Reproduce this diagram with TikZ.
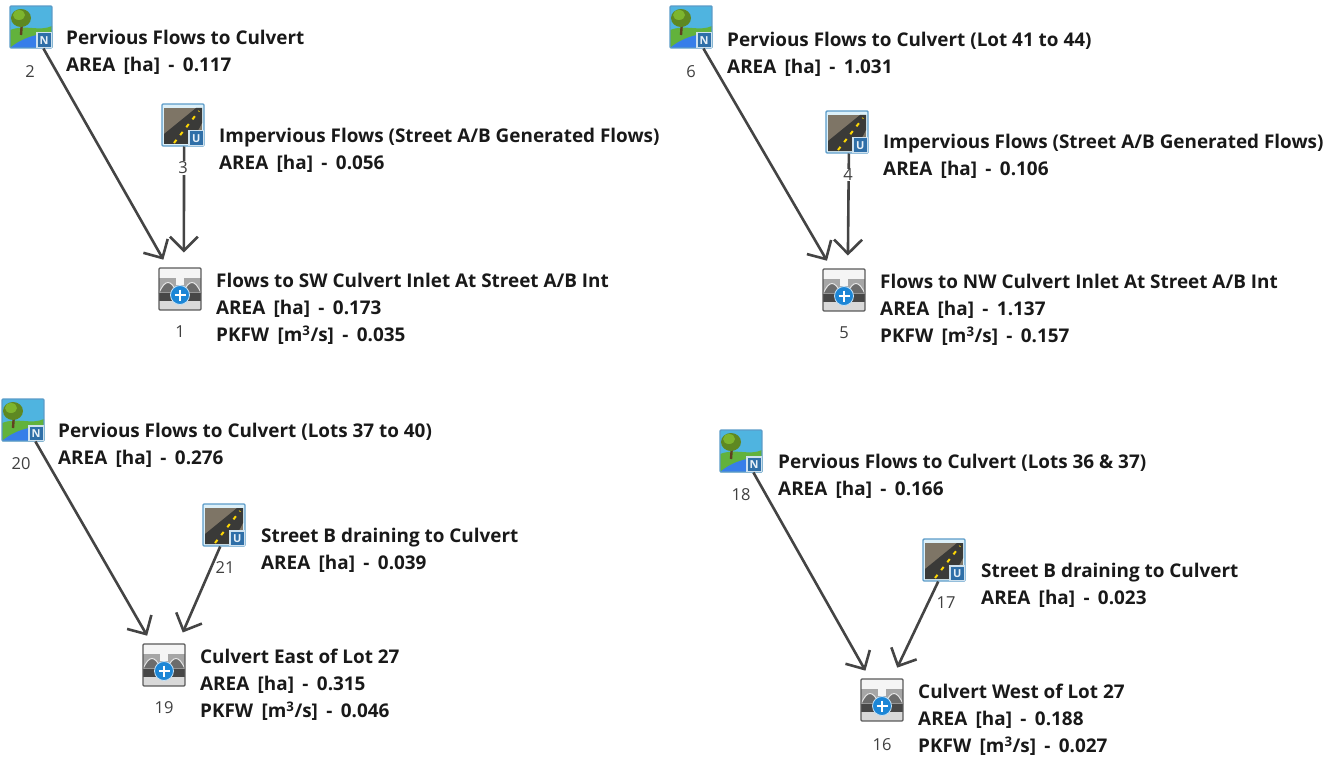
\documentclass[tikz,border=0pt]{standalone}
\usepackage{fontspec}
\setmainfont{Open Sans}
\usepackage{tikz}
\usetikzlibrary{arrows.meta,positioning}
\definecolor{HydFrame}{HTML}{5B9BC8}
\definecolor{HydBadge}{HTML}{2F6FA8}
\definecolor{HydSky}{HTML}{4FB4E0}
\definecolor{HydGrass}{HTML}{62B23C}
\definecolor{HydTree}{HTML}{7DB52E}
\definecolor{HydRoad}{HTML}{3A3A38}
\definecolor{HydDirt}{HTML}{7E7566}
\definecolor{HydLine}{HTML}{444444}
\definecolor{HydPlus}{HTML}{1C86D6}
\tikzset{
  hydbox/.style={minimum size=43pt,inner sep=0pt,outer sep=0pt},
  hydtext/.style={anchor=west,align=left,inner sep=0pt,text=black!90,font=\fontsize{18.9}{26.8}\selectfont\bfseries},
  hydnum/.style={font=\fontsize{16.5}{18}\selectfont,text=black!75,fill=white,inner sep=.5pt},
  flow/.style={draw=HydLine,line width=2.6pt,-{Straight Barb[length=14pt,width=28pt,line width=2.6pt]}},
  badge/.pic={\fill[white!70!HydFrame] (5,5) rectangle (21,21);\fill[HydBadge] (6.5,6.5) rectangle (20,20);\node[font=\fontsize{11}{11}\selectfont\bfseries,text=white!85!HydFrame,inner sep=0pt] at (13.2,13.2) {#1};},
  nhyd/.pic={
    \fill[HydSky] (-21,-21) rectangle (21,21);
    \fill[HydGrass] (-21,3) .. controls (-5,-3) and (8,5) .. (21,-1) -- (21,21) -- (-21,21) -- cycle;
    \fill[HydSky!70!blue] (-21,21) .. controls (-8,10) and (6,7) .. (21,6) -- (21,21) -- cycle;
    \draw[brown!50!black,line width=2.4pt] (-10,8) -- (-9,-6);
    \fill[HydTree!75!black] (-10,-9) ellipse (10pt and 9pt);
    \fill[HydTree] (-12,-12) ellipse (6pt and 5pt);
    \draw[HydFrame,line width=1.4pt,rounded corners=1pt] (-21,-21) rectangle (21,21);
    \pic at (0,0) {badge=N};},
  uhyd/.pic={
    \fill[white!80!HydSky] (-21,-21) rectangle (21,21);
    \fill[HydDirt] (-19,-17) rectangle (19,19);
    \fill[HydRoad] (-19,19) -- (-19,9) -- (13,-17) -- (19,-17) -- (19,-2) -- (8,19) -- cycle;
    \draw[yellow!75!orange,line width=2pt,dash pattern=on 4pt off 6pt] (-9,18) -- (16,-14);
    \draw[HydFrame,line width=1.4pt,rounded corners=1pt] (-21,-21) rectangle (21,21);
    \pic at (0,0) {badge=U};},
  addhyd/.pic={
    \fill[gray!30] (-21,-21) rectangle (21,21);
    \fill[gray!8] (-21,-21) rectangle (21,-11);
    \fill[gray!70] (-21,-11) rectangle (21,6);
    \fill[gray!8] (-4,-11) rectangle (4,-4);
    \fill[gray!85!black,draw=gray!20,line width=1pt] (-21,4) .. controls (-15,-10) and (-9,-10) .. (-3,4) -- cycle (3,4) .. controls (9,-10) and (15,-10) .. (21,4) -- cycle;
    \fill[black!72] (-21,4) rectangle (21,12);
    \fill[HydPlus,draw=white!75!HydPlus,line width=.8pt] (0,6) circle (9.5pt);
    \draw[white,line width=2.4pt] (-5.5,6) -- (5.5,6) (0,.5) -- (0,11.5);
    \draw[gray!70!black,line width=1.2pt,rounded corners=1pt] (-21,-21) rectangle (21,21);}
}
\newcommand{\ar}{AREA\hspace{3.5pt} [ha]\hspace{3.5pt} -\hspace{3.5pt} }
\newcommand{\pk}{PKFW\hspace{3.5pt} [m\textsuperscript{3}/s]\hspace{3.5pt} -\hspace{3.5pt} }
\begin{document}
\begin{tikzpicture}[x=1pt,y=-1pt]
\useasboundingbox (0,0) rectangle (1338,757);
% hydrograph boxes
\foreach \n/\x/\y/\t in {n2/31/27/nhyd,u3/183/125/uhyd,j1/180/289/addhyd,n6/691/27/nhyd,u4/847/132/uhyd,j5/844/290/addhyd,n20/23/420/nhyd,u21/224/525/uhyd,j19/164/665/addhyd,n18/741/451/nhyd,u17/944/560/uhyd,j16/882/700/addhyd}{\node[hydbox] (\n) at (\x,\y) {};\pic at (\x,\y) {\t};}
% connectors
\draw[flow,shorten >=9pt] (n2.-60)--(j1);
\draw[flow,shorten >=15pt] (u3.-87)--(j1.80);
\draw[flow,shorten >=9pt] (n6.-60)--(j5);
\draw[flow,shorten >=13pt] (u4.-85)--(j5.80);
\draw[flow,shorten >=9pt] (n20.-60)--(j19);
\draw[flow,shorten >=12pt] (u21.-100)--(j19.57);
\draw[flow,shorten >=9pt] (n18.-60)--(j16);
\draw[flow,shorten >=12pt] (u17.-105)--(j16.65);
% numbers
\foreach \n/\x/\y/\s in {n2/30/72/2,u3/183/168/3,j1/180/332/1,n6/691/72/6,u4/848/175/4,j5/844/333/5,n20/21/464/20,u21/225/568/21,j19/164/708/19,n18/741/495/18,u17/946/603/17,j16/882/745/16}{\node[hydnum] (l\n) at (\x,\y) {\s};}
% labels
\node[hydtext] (tn2) at (66,52) {Pervious Flows to Culvert\\\ar 0.117};
\node[hydtext] (tu3) at (219,150) {Impervious Flows (Street A/B Generated Flows)\\\ar 0.056};
\node[hydtext] (tj1) at (216,309) {Flows to SW Culvert Inlet At Street A/B Int\\\ar 0.173\\\pk 0.035};
\node[hydtext] (tn6) at (727,54) {Pervious Flows to Culvert (Lot 41 to 44)\\\ar 1.031};
\node[hydtext] (tu4) at (883,156) {Impervious Flows (Street A/B Generated Flows)\\\ar 0.106};
\node[hydtext] (tj5) at (880,310) {Flows to NW Culvert Inlet At Street A/B Int\\\ar 1.137\\\pk 0.157};
\node[hydtext] (tn20) at (58,445) {Pervious Flows to Culvert (Lots 37 to 40)\\\ar 0.276};
\node[hydtext] (tu21) at (261,550) {Street B draining to Culvert\\\ar 0.039};
\node[hydtext] (tj19) at (200,685) {Culvert East of Lot 27\\\ar 0.315\\\pk 0.046};
\node[hydtext] (tn18) at (778,476) {Pervious Flows to Culvert (Lots 36 \& 37)\\\ar 0.166};
\node[hydtext] (tu17) at (981,585) {Street B draining to Culvert\\\ar 0.023};
\node[hydtext] (tj16) at (918,720) {Culvert West of Lot 27\\\ar 0.188\\\pk 0.027};
\end{tikzpicture}
\end{document}
